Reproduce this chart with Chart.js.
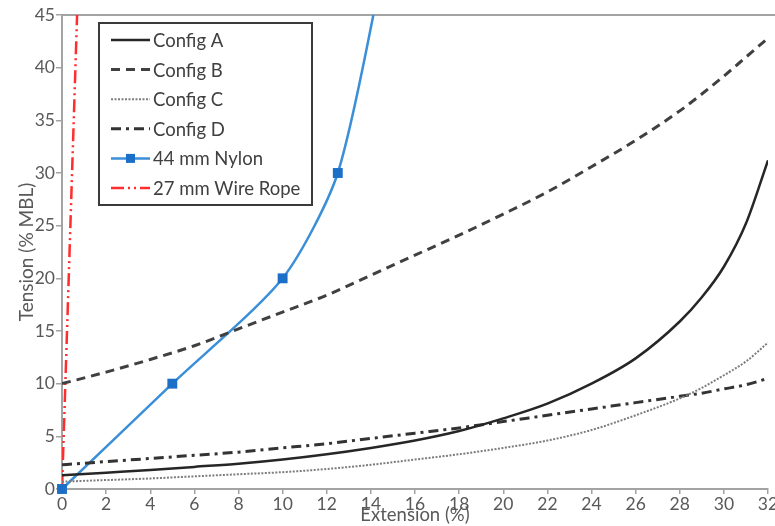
<!DOCTYPE html>
<html>
<head>
<meta charset="utf-8">
<script src="https://cdn.jsdelivr.net/npm/chart.js@4/dist/chart.umd.min.js"></script>
<style>
  html, body { margin: 0; padding: 0; background: #fff; overflow: hidden; }
  #wrap { width: 775px; height: 526px; }
</style>
</head>
<body>
<div id="wrap"><canvas id="canvas"></canvas></div>
<script>
// values
const extension = [0, 2, 4, 6, 8, 10, 12, 14, 16, 18, 20, 22, 24, 26, 28, 29, 30, 31, 32];
const configA = [1.3, 1.55, 1.8, 2.1, 2.4, 2.8, 3.3, 3.9, 4.6, 5.5, 6.7, 8.1, 10.0, 12.4, 15.9, 18.2, 21.1, 25.2, 31.2];
const configB = [10, 11.1, 12.3, 13.6, 15.2, 16.8, 18.4, 20.3, 22.2, 24.1, 26.1, 28.2, 30.6, 33.1, 35.9, 37.5, 39.2, 41.0, 42.8];
const configC = [0.7, 0.85, 1.0, 1.2, 1.4, 1.6, 1.9, 2.3, 2.8, 3.3, 3.9, 4.6, 5.6, 7.0, 8.6, 9.6, 10.8, 12.1, 13.9];
const configD = [2.3, 2.6, 2.9, 3.2, 3.5, 3.9, 4.3, 4.8, 5.3, 5.8, 6.4, 7.0, 7.6, 8.2, 8.8, 9.1, 9.5, 9.9, 10.5];

const nylonExt = [0, 5, 10, 12.5, 14.6];
const nylonTension = [0, 10, 20, 30, 50];
const nylonMarkers = [7, 7, 7, 7, 0];

const wireExt = [0, 0.76];
const wireTension = [0, 50];

const xTicks = [0, 2, 4, 6, 8, 10, 12, 14, 16, 18, 20, 22, 24, 26, 28, 30, 32];
const yTicks = [0, 5, 10, 15, 20, 25, 30, 35, 40, 45];

const FONT = "Lato, 'Open Sans', sans-serif";
const AXIS_GREY = "#a3a3a3";
const TEXT_GREY = "#595959";

function pairs(xs, ys) {
  return xs.map((x, i) => ({ x: x, y: ys[i] }));
}

const datasets = [
  {
    label: "Config A",
    data: pairs(extension, configA),
    borderColor: "#262626",
    borderWidth: 2.5,
    pointRadius: 0
  },
  {
    label: "Config B",
    data: pairs(extension, configB),
    borderColor: "#404040",
    borderWidth: 3,
    borderDash: [9, 6],
    pointRadius: 0
  },
  {
    label: "Config C",
    data: pairs(extension, configC),
    borderColor: "#7c7c7c",
    borderWidth: 2,
    borderDash: [2, 1.5],
    pointRadius: 0
  },
  {
    label: "Config D",
    data: pairs(extension, configD),
    borderColor: "#333333",
    borderWidth: 3,
    borderDash: [10, 5, 3, 5],
    pointRadius: 0
  },
  {
    label: "44 mm Nylon",
    data: pairs(nylonExt, nylonTension),
    borderColor: "#3a8fd8",
    backgroundColor: "#1b6fc6",
    borderWidth: 2.5,
    pointStyle: "rect",
    pointRadius: nylonMarkers,
    pointBorderWidth: 0,
    cubicInterpolationMode: "default",
    tension: 0.25,
    clip: { left: 10, bottom: 10, top: 0, right: 0 }
  },
  {
    label: "27 mm Wire Rope",
    data: pairs(wireExt, wireTension),
    borderColor: "#ff2d2d",
    borderWidth: 2.5,
    borderDash: [13, 4, 2, 4, 2, 4],
    pointRadius: 0,
    tension: 0
  }
];

// grey frame line along the top of the plot
const topBorder = {
  id: "topBorder",
  beforeDatasetsDraw(chart) {
    const { ctx, chartArea } = chart;
    ctx.save();
    ctx.strokeStyle = AXIS_GREY;
    ctx.lineWidth = 2;
    ctx.beginPath();
    ctx.moveTo(chartArea.left, chartArea.top);
    ctx.lineTo(chart.width, chartArea.top);
    ctx.stroke();
    ctx.restore();
  }
};

// boxed legend sitting inside the plot area
const insideLegend = {
  id: "insideLegend",
  afterDatasetsDraw(chart) {
    const ctx = chart.ctx;
    const box = { x: 99, y: 23, w: 213, h: 182 };
    ctx.save();
    ctx.fillStyle = "#fff";
    ctx.fillRect(box.x, box.y, box.w, box.h);
    ctx.strokeStyle = "#3a3a3a";
    ctx.lineWidth = 2;
    ctx.strokeRect(box.x, box.y, box.w, box.h);

    chart.data.datasets.forEach((ds, i) => {
      const y = 40 + i * 29.6;
      ctx.save();
      ctx.strokeStyle = ds.borderColor;
      ctx.lineWidth = ds.borderWidth;
      ctx.setLineDash(ds.borderDash || []);
      ctx.beginPath();
      ctx.moveTo(111, y);
      ctx.lineTo(150, y);
      ctx.stroke();
      ctx.restore();
      if (ds.pointStyle === "rect") {
        ctx.fillStyle = ds.backgroundColor;
        ctx.fillRect(126, y - 4.5, 9, 9);
      }
      ctx.fillStyle = "#404040";
      ctx.font = "18.5px " + FONT;
      ctx.textBaseline = "middle";
      ctx.textAlign = "left";
      ctx.fillText(ds.label, 153, y + 1);
    });
    ctx.restore();
  }
};

new Chart(document.getElementById("canvas"), {
  type: "line",
  data: { datasets: datasets },
  plugins: [topBorder, insideLegend],
  options: {
    responsive: true,
    maintainAspectRatio: false,
    animation: false,
    layout: { padding: { top: 15, right: 3, left: 0, bottom: 0 } },
    elements: {
      line: { tension: 0.4, cubicInterpolationMode: "monotone", fill: false }
    },
    plugins: {
      legend: { display: false },
      tooltip: { enabled: false }
    },
    scales: {
      x: {
        type: "linear",
        min: 0,
        max: 32,
        afterBuildTicks: scale => {
          scale.ticks = xTicks.map(v => ({ value: v }));
        },
        afterFit: scale => {
          scale.height = 37;
          scale.paddingLeft = 0;
          scale.paddingRight = 0;
        },
        grid: { drawOnChartArea: false, drawTicks: true, tickLength: 5, color: AXIS_GREY, lineWidth: 1.5 },
        border: { display: true, color: AXIS_GREY, width: 2 },
        ticks: { color: TEXT_GREY, font: { family: FONT, size: 17.5 }, padding: 0, maxRotation: 0, autoSkip: false },
        title: {
          display: true,
          text: "Extension (%)",
          color: TEXT_GREY,
          font: { family: FONT, size: 18.5 },
          padding: { top: 0, bottom: 0 }
        }
      },
      y: {
        min: 0,
        max: 45,
        afterBuildTicks: scale => {
          scale.ticks = yTicks.map(v => ({ value: v }));
        },
        afterFit: scale => {
          scale.width = 62;
          scale.paddingTop = 0;
          scale.paddingBottom = 0;
        },
        grid: { drawOnChartArea: false, drawTicks: true, tickLength: 6, color: AXIS_GREY, lineWidth: 1.5 },
        border: { display: true, color: AXIS_GREY, width: 2 },
        ticks: { color: TEXT_GREY, font: { family: FONT, size: 17.5 }, padding: 1, autoSkip: false },
        title: {
          display: true,
          text: "Tension (% MBL)",
          color: TEXT_GREY,
          font: { family: FONT, size: 19 },
          padding: { top: 15, bottom: 0 }
        }
      }
    }
  }
});
</script>
</body>
</html>
